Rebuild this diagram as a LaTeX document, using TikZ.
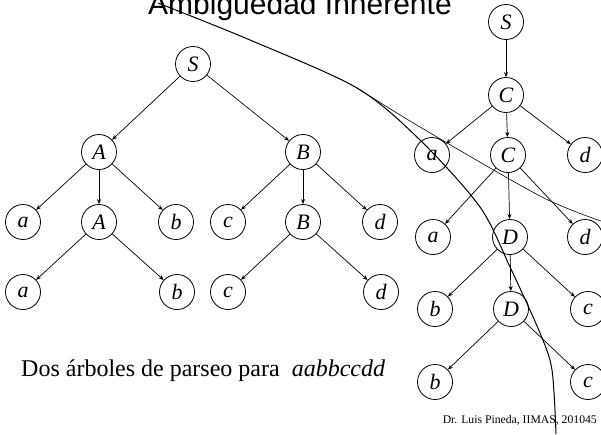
\documentclass[tikz,border=0pt]{standalone}
\usepackage{fontspec}
\setmainfont{Liberation Serif}
\newfontfamily\titlefont{Liberation Sans}
\usetikzlibrary{arrows.meta}

\begin{document}
\begin{tikzpicture}[
      x=1pt,y=-1pt,
      sym/.style={circle,draw,line width=0.8pt,minimum size=35pt,inner sep=0pt,font=\fontsize{22}{22}\selectfont\itshape},
      branch/.style={line width=0.7pt,-{Stealth[length=5pt,width=4pt]}},
      stroke/.style={line width=1pt},
      hairline/.style={line width=0.6pt},
      txt/.style={inner sep=0pt}
    ]
    \useasboundingbox (0,0) rectangle (601,434);
    % Draw the title and texts.
    \node[txt,anchor=base west,font=\titlefont\fontsize{30}{30}\selectfont] (title) at (148,14.5) {Ambiguedad Inherente};
    \node[txt,anchor=base west,font=\fontsize{24}{24}\selectfont] (caption) at (21,376) {Dos árboles de parseo para \ \textit{aabbccdd}};
    \node[txt,anchor=base east,font=\fontsize{11.7}{12}\selectfont] (credit) at (597,423) {Dr. Luis Pineda, IIMAS, 201045};
    % Draw the first tree.
    \node[sym] (S1) at (193,64) {S};
    \node[sym] (A1) at (99,152) {A};
    \node[sym] (B1) at (303,152) {B};
    \node[sym] (a1) at (23,222) {a};
    \node[sym] (A2) at (99,222) {A};
    \node[sym] (b1) at (176,222) {b};
    \node[sym] (a2) at (23,292) {a};
    \node[sym] (b2) at (177,292) {b};
    % Draw the second tree.
    \node[sym] (c1) at (228,222) {c};
    \node[sym] (B2) at (303,222) {B};
    \node[sym] (d1) at (380,222) {d};
    \node[sym] (c2) at (228,292) {c};
    \node[sym] (d2) at (381,292) {d};
    % Draw the third tree.
    \node[sym] (S2) at (506,22) {S};
    \node[sym] (C1) at (506,95) {C};
    \node[sym] (a3) at (432,155) {a};
    \node[sym] (C2) at (508,155) {C};
    \node[sym] (d3) at (585,155) {d};
    \node[sym] (a4) at (433,237) {a};
    \node[sym] (D1) at (510,237) {D};
    \node[sym] (d4) at (585,237) {d};
    \node[sym] (b3) at (435,309) {b};
    \node[sym] (D2) at (511,309) {D};
    \node[sym] (c3) at (588,309) {c};
    \node[sym] (b4) at (435,382) {b};
    \node[sym] (c4) at (588,382) {c};
    % Draw the branches.
    \draw[branch] (S1) -- (A1);
    \draw[branch] (S1) -- (B1);
    \draw[branch] (A1) -- (a1);
    \draw[branch] (A1) -- (A2);
    \draw[branch] (A1) -- (b1);
    \draw[branch] (A2) -- (a2);
    \draw[branch] (A2) -- (b2);
    \draw[branch] (B1) -- (c1);
    \draw[branch] (B1) -- (B2);
    \draw[branch] (B1) -- (d1);
    \draw[branch] (B2) -- (c2);
    \draw[branch] (B2) -- (d2);
    \draw[branch] (S2) -- (C1);
    \draw[branch] (C1) -- (a3);
    \draw[branch] (C1) -- (C2);
    \draw[branch] (C1) -- (d3);
    \draw[branch] (C2) -- (a4);
    \draw[branch] (C2) -- (D1);
    \draw[branch] (C2) -- (d4);
    \draw[branch] (D1) -- (b3);
    \draw[branch] (D1) -- (D2);
    \draw[branch] (D1) -- (c3);
    \draw[branch] (D2) -- (b4);
    \draw[branch] (D2) -- (c4);
    % Draw the stray strokes.
    \draw[stroke] plot[smooth] coordinates {(158,3) (250,40) (357,88) (420,140) (480,207) (510,267) (540,333) (552,370) (556,434)};
    \draw[hairline] plot[smooth] coordinates {(357,88) (420,127) (540,196) (601,221)};
    \end{tikzpicture}
\end{document}
